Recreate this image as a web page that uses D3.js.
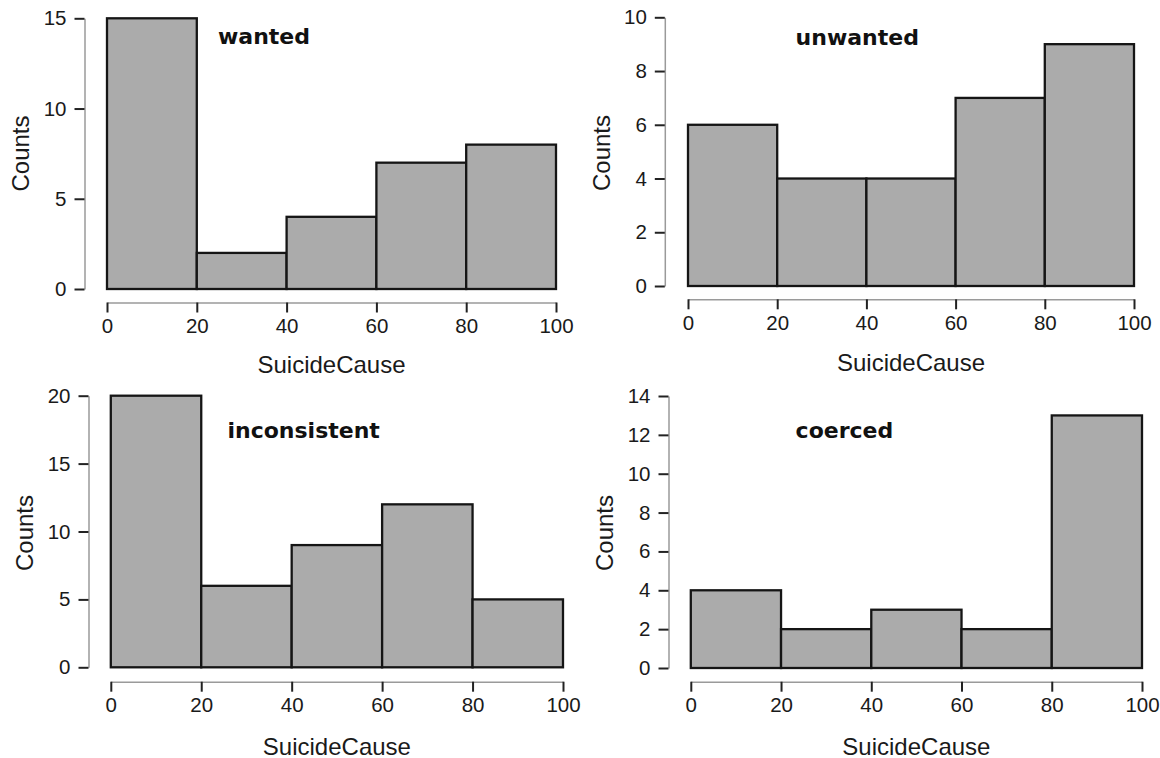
<!DOCTYPE html>
<html><head><meta charset="utf-8">
<script src="https://cdn.jsdelivr.net/npm/d3@7"></script>
<style>
html,body{margin:0;padding:0;background:#fff;}
svg{display:block;}
.tick text{font-family:"Liberation Sans",Arial,sans-serif;font-size:20.5px;fill:#1a1a1a;}
</style></head>
<body>
<svg id="chart" width="1160" height="758"></svg>
<script>
// ---- data ----
const binEdges = [0, 20, 40, 60, 80, 100];
const panelTitles = ["wanted", "unwanted", "inconsistent", "coerced"];
const wantedCounts = [15, 2, 4, 7, 8];
const unwantedCounts = [6, 4, 4, 7, 9];
const inconsistentCounts = [20, 6, 9, 12, 5];
const coercedCounts = [4, 2, 3, 2, 13];
const wantedTicks = [0, 5, 10, 15];
const unwantedTicks = [0, 2, 4, 6, 8, 10];
const inconsistentTicks = [0, 5, 10, 15, 20];
const coercedTicks = [0, 2, 4, 6, 8, 10, 12, 14];
const xTicks = [0, 20, 40, 60, 80, 100];
const xLabel = "SuicideCause";
const yLabel = "Counts";

// ---- layout ----
const layouts = [
  {x0:107, x1:556, y0:289, y1:18.3, ax:84.5, ay:302.5, tx:218, ty:44.3, xlY:373, ylX:28.5, ylY:153.5},
  {x0:688, x1:1134, y0:286, y1:17.3, ax:664.8, ay:299.3, tx:795.6, ty:45, xlY:371, ylX:609.5, ylY:153},
  {x0:110.8, x1:563, y0:667.3, y1:395.7, ax:88.5, ay:681.7, tx:227.5, ty:438, xlY:754.5, ylX:32.5, ylY:533},
  {x0:690.8, x1:1142, y0:668, y1:396, ax:668.5, ay:681.7, tx:795.6, ty:438, xlY:754.5, ylX:612.7, ylY:533}
];
const countsList = [wantedCounts, unwantedCounts, inconsistentCounts, coercedCounts];
const ticksList = [wantedTicks, unwantedTicks, inconsistentTicks, coercedTicks];

const svg = d3.select("#chart");

panelTitles.forEach((title, i) => {
  const L = layouts[i];
  const counts = countsList[i];
  const yt = ticksList[i];
  const x = d3.scaleLinear().domain([0, 100]).range([L.x0, L.x1]);
  const y = d3.scaleLinear().domain([0, d3.max(yt)]).range([L.y0, L.y1]);
  const g = svg.append("g");

  const bins = counts.map((c, k) => ({lo: binEdges[k], hi: binEdges[k+1], c}));
  g.selectAll("rect").data(bins).join("rect")
    .attr("x", d => x(d.lo)).attr("width", d => x(d.hi) - x(d.lo))
    .attr("y", d => y(d.c)).attr("height", d => y(0) - y(d.c))
    .attr("fill", "#ababab").attr("stroke", "#151515").attr("stroke-width", 2.3);

  const ya = g.append("g").attr("transform", `translate(${L.ax},0)`)
    .call(d3.axisLeft(y).tickValues(yt).tickFormat(d3.format("d")).tickSize(10).tickSizeOuter(0).tickPadding(8));
  const xa = g.append("g").attr("transform", `translate(0,${L.ay})`)
    .call(d3.axisBottom(x).tickValues(xTicks).tickFormat(d3.format("d")).tickSize(10).tickSizeOuter(0).tickPadding(6));
  [ya, xa].forEach(a => {
    a.select(".domain").attr("stroke", "#9a9a9a").attr("stroke-width", 1.5);
    a.selectAll(".tick line").attr("stroke", "#222").attr("stroke-width", 2);
  });

  g.append("text").attr("x", (L.x0 + L.x1) / 2).attr("y", L.xlY)
    .attr("text-anchor", "middle")
    .style("font-family", '"Liberation Sans",Arial,sans-serif').style("font-size", "24px")
    .attr("fill", "#1a1a1a").text(xLabel);
  g.append("text").attr("transform", `translate(${L.ylX},${L.ylY}) rotate(-90)`)
    .attr("text-anchor", "middle")
    .style("font-family", '"Liberation Sans",Arial,sans-serif').style("font-size", "24px")
    .attr("fill", "#1a1a1a").text(yLabel);
  g.append("text").attr("x", L.tx).attr("y", L.ty)
    .style("font-family", '"DejaVu Sans",sans-serif').style("font-size", "22px").style("font-weight", "bold")
    .attr("fill", "#111").text(title);
});
</script>
</body></html>
